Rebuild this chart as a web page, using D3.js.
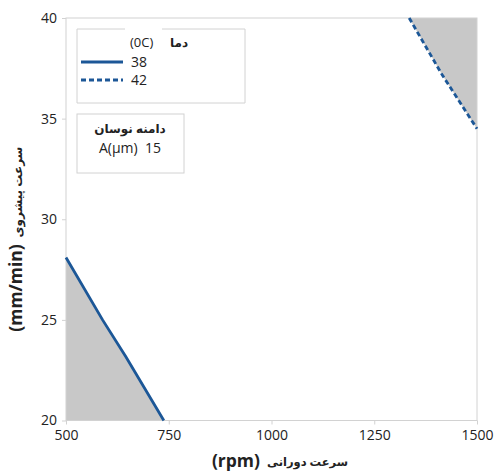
<!DOCTYPE html>
<html>
<head>
<meta charset="utf-8">
<script src="https://cdn.jsdelivr.net/npm/d3@7"></script>
<style>
  body { margin: 0; background: #fff; }
  svg { font-family: "Open Sans", "DejaVu Sans", sans-serif; }
</style>
</head>
<body>
<div id="chart"></div>
<script>
// values
const xTicks = [500, 750, 1000, 1250, 1500];
const yTicks = [20, 25, 30, 35, 40];
const temps = ['38', '42'];
// boundary for 38 (solid)
const solidRpm = [500, 589, 646, 738];
const solidFeed = [28.1, 25.0, 23.15, 20.0];
// boundary for 42 (dashed)
const dashedRpm = [1335, 1416, 1500];
const dashedFeed = [40.0, 37.15, 34.5];
const amplitude = 'A(µm)  15';

const width = 494, height = 472;
const margin = { left: 66, right: 17, top: 18, bottom: 51.5 };
const blue = '#1c5797';
const fillGray = '#c8c8c8';
const frameGray = '#d2d2d2';

const svg = d3.select('#chart').append('svg')
  .attr('width', width)
  .attr('height', height);

const x = d3.scaleLinear().domain([500, 1500]).range([margin.left, width - margin.right]);
const y = d3.scaleLinear().domain([20, 40]).range([height - margin.bottom, margin.top]);

const solid = solidRpm.map((r, i) => ({ r, f: solidFeed[i] }));
const dashed = dashedRpm.map((r, i) => ({ r, f: dashedFeed[i] }));

// shaded regions
svg.append('path')
  .datum(solid)
  .attr('fill', fillGray)
  .attr('d', d3.area().x(d => x(d.r)).y0(y(20)).y1(d => y(d.f)));
svg.append('path')
  .datum(dashed)
  .attr('fill', fillGray)
  .attr('d', d3.area().x(d => x(d.r)).y0(y(40)).y1(d => y(d.f)));

// frame
svg.append('rect')
  .attr('x', x(500)).attr('y', y(40))
  .attr('width', x(1500) - x(500)).attr('height', y(20) - y(40))
  .attr('fill', 'none').attr('stroke', frameGray);

// axes
const xAxis = svg.append('g')
  .attr('transform', `translate(0,${y(20)})`)
  .call(d3.axisBottom(x).tickValues(xTicks).tickFormat(d3.format('d')).tickSize(4).tickPadding(6));
const yAxis = svg.append('g')
  .attr('transform', `translate(${x(500)},0)`)
  .call(d3.axisLeft(y).tickValues(yTicks).tickFormat(d3.format('d')).tickSize(4).tickPadding(5));
[xAxis, yAxis].forEach(g => {
  g.select('.domain').remove();
  g.selectAll('.tick line').attr('stroke', frameGray);
  g.selectAll('.tick text')
    .attr('fill', '#222')
    .style('font-size', '14px')
    .style('font-family', '"Open Sans", sans-serif');
});

// boundary lines
const line = d3.line().x(d => x(d.r)).y(d => y(d.f));
svg.append('path').datum(solid)
  .attr('fill', 'none').attr('stroke', blue).attr('stroke-width', 2.8)
  .attr('d', line);
svg.append('path').datum(dashed)
  .attr('fill', 'none').attr('stroke', blue).attr('stroke-width', 2.8)
  .attr('stroke-dasharray', '5,3')
  .attr('d', line);

// axis titles
svg.append('text')
  .attr('x', 260).attr('y', 467)
  .attr('text-anchor', 'end')
  .style('font-size', '17.5px').style('font-weight', 'bold').attr('fill', '#222')
  .text('(rpm)');
svg.append('text')
  .attr('x', 267).attr('y', 466)
  .attr('text-anchor', 'start')
  .style('font-size', '11.5px').style('font-weight', 'bold').attr('fill', '#222')
  .text('سرعت دورانی');

svg.append('text')
  .attr('transform', 'translate(22,288) rotate(-90)')
  .attr('text-anchor', 'middle')
  .style('font-size', '17.5px').style('font-weight', 'bold').attr('fill', '#222')
  .text('(mm/min)');
svg.append('text')
  .attr('transform', 'translate(22,192) rotate(-90)')
  .attr('text-anchor', 'middle')
  .style('font-size', '12px').style('font-weight', 'bold').attr('fill', '#222')
  .text('سرعت پیشروی');

// legend: temperature
const lg = svg.append('g');
const bx = 77, by = 29, bw = 168, bh = 74;
lg.append('path')
  .attr('fill', 'none').attr('stroke', frameGray)
  .attr('d', `M125,${by} H${bx} V${by + bh} H${bx + bw} V${by} H162`);
lg.append('text').attr('x', 130).attr('y', 47)
  .style('font-size', '13px').attr('fill', '#222').text('(0C)');
lg.append('text').attr('x', 170).attr('y', 47)
  .style('font-size', '12px').style('font-weight', 'bold').attr('fill', '#222').text('دما');
temps.forEach((t, i) => {
  const ly = 62 + i * 18;
  lg.append('line')
    .attr('x1', 81).attr('x2', 123).attr('y1', ly).attr('y2', ly)
    .attr('stroke', blue).attr('stroke-width', 2.8)
    .attr('stroke-dasharray', i === 1 ? '5,3' : null);
  lg.append('text').attr('x', 131).attr('y', ly + 5)
    .style('font-size', '14px').attr('fill', '#222').text(t);
});

// legend: amplitude
const ag = svg.append('g');
ag.append('rect')
  .attr('x', 77).attr('y', 114).attr('width', 107).attr('height', 59)
  .attr('fill', 'none').attr('stroke', frameGray);
ag.append('text').attr('x', 130).attr('y', 133)
  .attr('text-anchor', 'middle')
  .style('font-size', '12px').style('font-weight', 'bold').attr('fill', '#222')
  .text('دامنه نوسان');
ag.append('text').attr('x', 130).attr('y', 153)
  .attr('text-anchor', 'middle')
  .style('font-size', '14px').style('white-space', 'pre').attr('fill', '#222')
  .text(amplitude);
</script>
</body>
</html>
